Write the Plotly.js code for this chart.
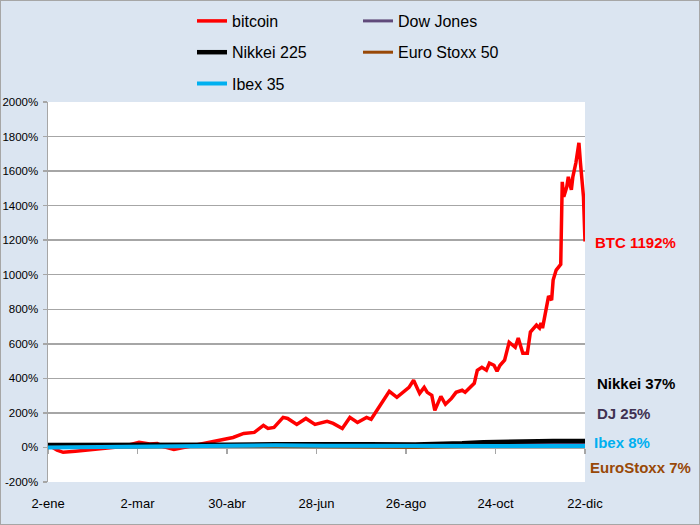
<!DOCTYPE html>
<html><head><meta charset="utf-8">
<script src="https://cdn.plot.ly/plotly-3.0.1.min.js"></script>
<style>
html,body{margin:0;padding:0;background:#dbe5f1;}
#chart{width:700px;height:525px;}
#frame{position:absolute;left:0;top:0;width:700px;height:525px;box-sizing:border-box;border:1px solid #a6a6a6;pointer-events:none;}
</style>
</head><body>
<div id="chart"></div><div id="frame"></div>
<script>
const FONT = '"Liberation Sans", Arial, sans-serif';

// Bitcoin (% change since 2-ene)
const btcDates = ['2017-01-02','2017-01-04','2017-01-08','2017-01-12','2017-01-20','2017-01-30','2017-02-10','2017-02-20','2017-03-03','2017-03-10','2017-03-15','2017-03-19','2017-03-26','2017-04-05','2017-04-16','2017-04-25','2017-05-04','2017-05-11','2017-05-18','2017-05-24','2017-05-27','2017-05-31','2017-06-06','2017-06-09','2017-06-15','2017-06-21','2017-06-27','2017-07-05','2017-07-09','2017-07-15','2017-07-20','2017-07-25','2017-07-31','2017-08-03','2017-08-08','2017-08-15','2017-08-20','2017-08-28','2017-08-31','2017-09-04','2017-09-07','2017-09-09','2017-09-12','2017-09-14','2017-09-18','2017-09-21','2017-09-25','2017-09-28','2017-10-02','2017-10-04','2017-10-10','2017-10-12','2017-10-15','2017-10-18','2017-10-20','2017-10-23','2017-10-25','2017-10-27','2017-10-30','2017-11-02','2017-11-06','2017-11-08','2017-11-11','2017-11-14','2017-11-16','2017-11-20','2017-11-22','2017-11-23','2017-11-24','2017-11-27','2017-11-28','2017-11-30','2017-12-01','2017-12-03','2017-12-05','2017-12-06','2017-12-07','2017-12-08','2017-12-10','2017-12-11','2017-12-13','2017-12-14','2017-12-16','2017-12-18','2017-12-19','2017-12-21','2017-12-22'];
const btcValues = [0,5,-15,-28,-22,-12,-5,5,30,20,23,5,-12,6,23,41,58,81,87,128,110,116,174,168,133,168,133,151,139,110,174,145,174,163,232,325,290,348,389,313,348,319,302,215,296,250,284,319,331,319,371,447,464,447,488,476,441,476,505,609,580,633,546,546,668,708,691,720,691,853,876,853,969,1027,1045,1060,1538,1451,1509,1567,1492,1567,1648,1764,1648,1451,1192];

// Stock indices (% change)
const idxDates = ['2017-01-02','2017-02-01','2017-03-01','2017-04-03','2017-05-01','2017-06-01','2017-07-03','2017-08-01','2017-09-01','2017-09-15','2017-10-02','2017-10-16','2017-11-01','2017-11-15','2017-12-01','2017-12-22'];
const djValues     = [0,1,7,6,7,8,10,11,12,13,15,17,18,20,22,25];
const nikkeiValues = [14,13,15,12,16,18,20,19,17,19,24,30,35,36,38,37];
const stoxxValues  = [0,0,2,5,8,6,3,1,0,2,5,7,8,7,6,7];
const ibexValues   = [0,2,4,8,12,13,10,9,8,8,9,10,10,9,7,8];

const xTickVals = ['2017-01-02','2017-03-02','2017-04-30','2017-06-28','2017-08-26','2017-10-24','2017-12-22'];
const xTickText = ['2-ene','2-mar','30-abr','28-jun','26-ago','24-oct','22-dic'];
const yTickVals = [-200,0,200,400,600,800,1000,1200,1400,1600,1800,2000];
const yTickText = ['-200%','0%','200%','400%','600%','800%','1000%','1200%','1400%','1600%','1800%','2000%'];

const traces = [
  {x: btcDates, y: btcValues, name: 'bitcoin', type: 'scatter', mode: 'lines', line: {color: '#ff0000', width: 3.5}, legend: 'legend', legendgroup: 'a'},
  {x: idxDates, y: djValues, name: 'Dow Jones', type: 'scatter', mode: 'lines', line: {color: '#604a7b', width: 3}, legend: 'legend2', legendgroup: 'b'},
  {x: idxDates, y: nikkeiValues, name: 'Nikkei 225', type: 'scatter', mode: 'lines', line: {color: '#000000', width: 4.5}, legend: 'legend', legendgroup: 'c'},
  {x: idxDates, y: stoxxValues, name: 'Euro Stoxx 50', type: 'scatter', mode: 'lines', line: {color: '#984807', width: 3}, legend: 'legend2', legendgroup: 'd'},
  {x: idxDates, y: ibexValues, name: 'Ibex 35', type: 'scatter', mode: 'lines', line: {color: '#00b0f0', width: 4}, legend: 'legend', legendgroup: 'e'},
  {x: [], y: [], xaxis: 'x2', type: 'scatter', mode: 'lines', showlegend: false, hoverinfo: 'skip'}
];

const legendCommon = {
  orientation: 'v', bgcolor: 'rgba(0,0,0,0)', borderwidth: 0,
  font: {family: FONT, size: 16, color: '#000'},
  xref: 'container', yref: 'container', xanchor: 'left', yanchor: 'top',
  tracegroupgap: 7.5, itemwidth: 30
};

const W = 537, H = 380, L = 48, T = 102;
function px(x){ return (x - L) / W; }
function py(y){ return (T + H - y) / H; }

const annotations = [
  {text: '<b>BTC 1192%</b>', x: px(593), y: py(242), color: '#ff0000'},
  {text: '<b>Nikkei 37%</b>', x: px(595), y: py(383), color: '#000000'},
  {text: '<b>DJ 25%</b>', x: px(595), y: py(413), color: '#403151'},
  {text: '<b>Ibex 8%</b>', x: px(592), y: py(442), color: '#00b0f0'},
  {text: '<b>EuroStoxx 7%</b>', x: px(588), y: py(467), color: '#984807'}
].map(a => ({text: a.text, x: a.x, y: a.y, xref: 'paper', yref: 'paper', xanchor: 'left', yanchor: 'middle', showarrow: false, font: {family: FONT, size: 15, color: a.color}}));

const layout = {
  width: 700, height: 525,
  margin: {l: L, r: 700 - L - W, t: T, b: 525 - T - H, pad: 0, autoexpand: false},
  paper_bgcolor: '#dbe5f1', plot_bgcolor: '#ffffff',
  font: {family: FONT, color: '#000'},
  showlegend: true,
  legend: Object.assign({}, legendCommon, {x: 192/700, y: 1 - 4/525}),
  legend2: Object.assign({}, legendCommon, {x: 358/700, y: 1 - 4/525}),
  xaxis: {
    type: 'date', range: ['2017-01-02', '2017-12-22'],
    tickvals: xTickVals, ticktext: xTickText,
    ticks: '', showgrid: false, showline: false, zeroline: false,
    tickfont: {family: FONT, size: 13, color: '#000'},
    ticklabelstandoff: 12, fixedrange: true, automargin: false
  },
  xaxis2: {
    type: 'date', range: ['2017-01-02', '2017-12-22'], overlaying: 'x',
    anchor: 'free', position: 200/2200, side: 'bottom',
    tickvals: xTickVals, showticklabels: false,
    ticks: 'outside', ticklen: 5, tickwidth: 1.5, tickcolor: '#a6a6a6',
    showline: true, linecolor: '#a6a6a6', linewidth: 1.5,
    showgrid: false, zeroline: false, layer: 'below traces', automargin: false
  },
  yaxis: {
    range: [-200, 2000], tickvals: yTickVals, ticktext: yTickText,
    showgrid: true, gridcolor: '#a6a6a6', gridwidth: 1.5,
    zeroline: false, showline: true, linecolor: '#a6a6a6', linewidth: 1.5,
    ticks: 'outside', ticklen: 4, tickwidth: 1.5, tickcolor: '#a6a6a6',
    tickfont: {family: FONT, size: 11.5, color: '#000'},
    ticklabelstandoff: 2, fixedrange: true, layer: 'below traces', automargin: false
  },
  annotations: annotations
};

Plotly.newPlot('chart', traces, layout, {displayModeBar: false, staticPlot: true});
</script>
</body></html>
